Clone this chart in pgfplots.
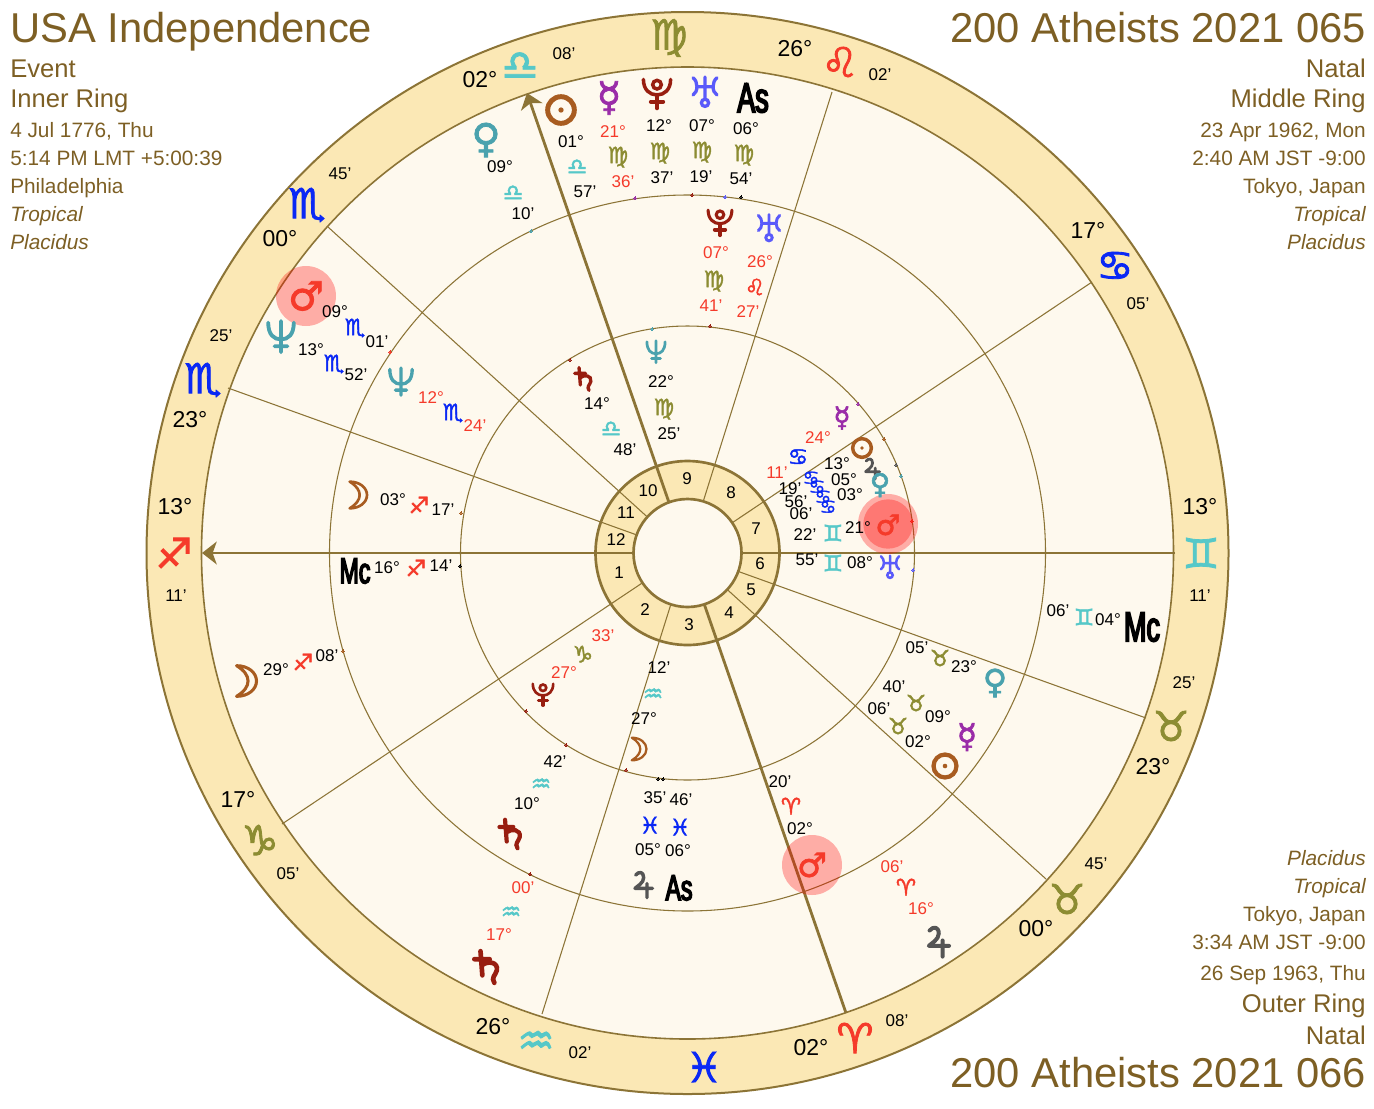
\documentclass[border=0pt]{standalone}
\usepackage{pgfplots}
\pgfplotsset{compat=1.18}
\usetikzlibrary{arrows.meta}
\usepackage{fontspec}
\setmainfont{Liberation Sans}
\newfontfamily\sym[FakeBold=2]{DejaVu Sans}
\newfontfamily\asf[FakeStretch=0.64,FakeBold=4]{Liberation Sans}
\definecolor{ttl}{HTML}{7D5F24}
\definecolor{gold}{HTML}{FBE8B5}
\definecolor{cream}{HTML}{FEF9EE}
\definecolor{ln}{HTML}{8C7436}
\definecolor{rd}{HTML}{F53A2A}
\definecolor{olv}{HTML}{8C8C32}
\definecolor{tea}{HTML}{56C8C8}
\definecolor{blu}{HTML}{0A28F5}
\definecolor{brn}{HTML}{A85C20}
\definecolor{pur}{HTML}{9A2CA8}
\definecolor{ven}{HTML}{4AA2AE}
\definecolor{jup}{HTML}{555555}
\definecolor{sat}{HTML}{981E10}
\definecolor{ura}{HTML}{5A5AFA}
\newcommand\fs[1]{\fontsize{#1}{#1}\selectfont}
\newcommand\sg[1]{\fs{#1}\sym}
% custom marks, scaled by the mark size
\newcommand\mpt[2]{\pgfqpoint{#1\pgfplotmarksize}{#2\pgfplotmarksize}}
\pgfdeclareplotmark{sunm}{%
  \pgfsetlinewidth{0.37\pgfplotmarksize}%
  \pgfpathcircle{\pgfpointorigin}{\pgfplotmarksize}\pgfusepathqstroke
  \pgfpathcircle{\pgfpointorigin}{0.2\pgfplotmarksize}\pgfusepathqfill}
\pgfdeclareplotmark{moonm}{%
  \pgfsetlinewidth{0.2\pgfplotmarksize}\pgfsetroundjoin
  \pgfpathmoveto{\mpt{-0.55}{1}}%
  \pgfpathcurveto{\mpt{0.2}{1.0}}{\mpt{0.75}{0.55}}{\mpt{0.75}{0}}%
  \pgfpathcurveto{\mpt{0.75}{-0.55}}{\mpt{0.2}{-1.0}}{\mpt{-0.55}{-1}}%
  \pgfpathcurveto{\mpt{-0.05}{-0.7}}{\mpt{0.2}{-0.35}}{\mpt{0.2}{0}}%
  \pgfpathcurveto{\mpt{0.2}{0.35}}{\mpt{-0.05}{0.7}}{\mpt{-0.55}{1}}%
  \pgfpathclose\pgfusepathqstroke}
\pgfdeclareplotmark{plutom}{%
  \pgfsetlinewidth{0.22\pgfplotmarksize}\pgfsetroundcap
  \pgfpathcircle{\mpt{0}{0.52}}{0.27\pgfplotmarksize}\pgfusepathqstroke
  \pgfpathmoveto{\mpt{-0.85}{0.85}}%
  \pgfpathcurveto{\mpt{-0.85}{0.2}}{\mpt{-0.45}{-0.12}}{\mpt{0}{-0.12}}%
  \pgfpathcurveto{\mpt{0.45}{-0.12}}{\mpt{0.85}{0.2}}{\mpt{0.85}{0.85}}%
  \pgfusepathqstroke
  \pgfsetlinewidth{0.26\pgfplotmarksize}%
  \pgfpathmoveto{\mpt{0}{-0.12}}\pgfpathlineto{\mpt{0}{-0.95}}%
  \pgfpathmoveto{\mpt{-0.38}{-0.55}}\pgfpathlineto{\mpt{0.38}{-0.55}}%
  \pgfusepathqstroke}
\pgfdeclareplotmark{neptm}{%
  \pgfsetlinewidth{0.24\pgfplotmarksize}\pgfsetroundcap
  \pgfpathmoveto{\mpt{-0.8}{0.9}}%
  \pgfpathcurveto{\mpt{-0.8}{0.15}}{\mpt{-0.45}{-0.15}}{\mpt{0}{-0.15}}%
  \pgfpathcurveto{\mpt{0.45}{-0.15}}{\mpt{0.8}{0.15}}{\mpt{0.8}{0.9}}%
  \pgfpathmoveto{\mpt{0}{1}}\pgfpathlineto{\mpt{0}{-0.95}}%
  \pgfpathmoveto{\mpt{-0.4}{-0.58}}\pgfpathlineto{\mpt{0.4}{-0.58}}%
  \pgfusepathqstroke}
\pgfdeclareplotmark{uram}{%
  \pgfsetlinewidth{0.22\pgfplotmarksize}\pgfsetroundcap
  \pgfpathmoveto{\mpt{-0.8}{0.95}}%
  \pgfpathcurveto{\mpt{-0.45}{0.7}}{\mpt{-0.45}{0}}{\mpt{-0.8}{-0.2}}%
  \pgfpathmoveto{\mpt{0.8}{0.95}}%
  \pgfpathcurveto{\mpt{0.45}{0.7}}{\mpt{0.45}{0}}{\mpt{0.8}{-0.2}}%
  \pgfpathmoveto{\mpt{-0.5}{0.35}}\pgfpathlineto{\mpt{0.5}{0.35}}%
  \pgfpathmoveto{\mpt{0}{1}}\pgfpathlineto{\mpt{0}{-0.45}}%
  \pgfpathcircle{\mpt{0}{-0.72}}{0.24\pgfplotmarksize}%
  \pgfusepathqstroke}
\pgfdeclareplotmark{jupm}{%
  \pgfsetlinewidth{0.26\pgfplotmarksize}\pgfsetroundcap\pgfsetroundjoin
  \pgfpathmoveto{\mpt{-0.55}{0.75}}%
  \pgfpathcurveto{\mpt{-0.3}{1.05}}{\mpt{0.05}{1.0}}{\mpt{0.05}{0.55}}%
  \pgfpathcurveto{\mpt{0.05}{0.15}}{\mpt{-0.45}{-0.1}}{\mpt{-0.6}{-0.25}}%
  \pgfpathlineto{\mpt{0.72}{-0.25}}%
  \pgfpathmoveto{\mpt{0.3}{0.1}}\pgfpathlineto{\mpt{0.3}{-0.95}}%
  \pgfusepathqstroke}
\pgfdeclareplotmark{satm}{%
  \pgfsetlinewidth{0.28\pgfplotmarksize}\pgfsetroundcap
  \pgfpathmoveto{\mpt{-0.33}{0.95}}\pgfpathlineto{\mpt{-0.22}{-0.5}}%
  \pgfpathmoveto{\mpt{-0.7}{0.47}}\pgfpathlineto{\mpt{0.22}{0.47}}%
  \pgfpathmoveto{\mpt{-0.25}{0.1}}%
  \pgfpathcurveto{\mpt{0.1}{0.4}}{\mpt{0.75}{0.3}}{\mpt{0.65}{-0.2}}%
  \pgfpathcurveto{\mpt{0.55}{-0.55}}{\mpt{0.3}{-0.6}}{\mpt{0.5}{-0.95}}%
  \pgfusepathqstroke}
\pgfplotsset{
 lab/.style 2 args={only marks, mark=*, mark size=0pt, mark options={draw opacity=0,fill opacity=0},
  point meta=explicit symbolic, nodes near coords={\pgfplotspointmeta},
  every node near coord/.style={anchor=center, inner sep=0pt, outer sep=0pt, text=#1, font=#2, opacity=1, text opacity=1}},
 ring/.style n args={4}{only marks, mark=*, mark size=#1pt, mark options={draw=#2, line width=#3pt, fill=#4}},
 oring/.style 2 args={only marks, mark=o, mark size=#1pt, mark options={draw=ln, line width=#2pt}},
 dots/.style={only marks, mark=*, mark size=0.8pt, mark options={draw=#1, line width=0pt, fill=#1}},
 gl/.style n args={3}{only marks, mark=#1, mark size=#2pt, mark options={draw=#3, fill=#3}},
 spoke/.style={ln, line width=0.8pt, no markers},
 axisline/.style={ln, line width=2.1pt, no markers}
}
\newcommand\lab[3]{\addplot[lab={#1}{#2}] table[row sep=\\, meta=t]{x y t\\ #3};}
\newcommand\tl[3]{\node[anchor=base west,inner sep=0pt,font=\fs{#1},text=ttl] at (axis cs:10,#2) {#3};}
\newcommand\tr[3]{\node[anchor=base east,inner sep=0pt,font=\fs{#1},text=ttl] at (axis cs:1366,#2) {#3};}
\begin{document}
\begin{tikzpicture}
\begin{axis}[scale only axis, width=1030.5pt, height=831pt, xmin=0, xmax=1374, ymin=0, ymax=1108,
  y dir=reverse, hide axis, clip=false, clip mode=individual]
\path (axis cs:0,0) (axis cs:1374,1108);
% rings
\addplot[ring={405.75}{ln}{1.5}{gold}] coordinates {(687.5,553)};
\addplot[ring={364.5}{ln}{1.2}{cream}] coordinates {(687.5,553)};
\addplot[oring={268.5}{0.8}] coordinates {(687.5,553)};
\addplot[oring={170.25}{0.8}] coordinates {(687.5,553)};
\addplot[ring={69}{ln}{2}{gold}] coordinates {(687.5,553)};
% house cusps
\addplot[spoke] coordinates {(228,388) (1146,718)};
\addplot[spoke] coordinates {(328,227) (1046,879)};
\addplot[spoke] coordinates {(832,92) (542,1014)};
\addplot[spoke] coordinates {(1092,282) (282,824)};
\addplot[axisline, -{Stealth[length=11pt,width=17pt,inset=3pt]}] coordinates {(1175,553) (202,553)};
\addplot[axisline, -{Stealth[length=11pt,width=17pt,inset=3pt]}] coordinates {(846,1013) (527,93)};
\addplot[ring={40.5}{ln}{2}{cream}] coordinates {(687.5,553)};
% tiny position dots
\addplot[dots=pur] coordinates {(635,198) (858,404)};
\addplot[dots=sat] coordinates {(692,195) (710,326) (526,711) (566,745) (626,770) (530,874) (570,360)};
\addplot[dots=ura] coordinates {(725,197) (913,570)};
\addplot[dots=black] coordinates {(741,197) (460,566) (658,779) (663,779)};
\addplot[dots=ven] coordinates {(531,231) (652,329) (901,476)};
\addplot[dots=brn] coordinates {(884,439) (343,651) (461,513)};
\addplot[dots=jup] coordinates {(896,465)};
\addplot[dots=rd] coordinates {(912,521) (390,352)};
% halos
\addplot[only marks, mark=*, mark size=22.5pt, mark options={draw opacity=0, fill=red, fill opacity=0.3}] coordinates {(306,296) (812,865) (888,524)};
\addplot[only marks, mark=*, mark size=18.5pt, mark options={draw opacity=0, fill=red, fill opacity=0.3}] coordinates {(888,524)};
% zodiac ring signs
\lab{olv}{\sg{31}}{669 38 ♍\\ 1171 726 ♉\\ 1067 899 ♉\\ 260 840 ♑\\}
\lab{tea}{\sg{31}}{520 66 ♎\\ 1201 553 ♊\\ 536 1043 ♒\\}
\lab{rd}{\sg{31}}{840 62 ♌\\ 855 1038 ♈\\ 174 553 ♐\\}
\lab{blu}{\sg{31}}{1115 266 ♋\\ 704 1067 ♓\\ 203 380 ♏\\ 307 205 ♏\\}
\lab{black}{\fs{17.25}}{480 80 02°\\ 795 49 26°\\ 1088 230 17°\\ 1200 507 13°\\ 1153 767 23°\\ 1036 929 00°\\ 811 1048 02°\\ 493 1027 26°\\ 238 799 17°\\ 175 507 13°\\ 190 420 23°\\ 280 239 00°\\}
\lab{black}{\fs{12.75}}{564 54 08'\\ 880 75 02'\\ 1138 304 05'\\ 1200 596 11'\\ 1184 683 25'\\ 1096 864 45'\\ 897 1021 08'\\ 580 1053 02'\\ 288 874 05'\\ 176 596 11'\\ 221 336 25'\\ 340 174 45'\\}
% house numbers
\lab{black}{\fs{12.75}}{687 479 9\\ 731 493 8\\ 756 529 7\\ 760 564 6\\ 751 590 5\\ 729 613 4\\ 689 625 3\\ 645 610 2\\ 619 573 1\\ 616 540 12\\ 626 513 11\\ 648 491 10\\}
% planets drawn as marks: outer, middle, inner ring
\addplot[gl={sunm}{10}{brn}] coordinates {(561,110)};
\addplot[gl={sunm}{8.6}{brn}] coordinates {(945,766)};
\addplot[gl={sunm}{7}{brn}] coordinates {(862,448)};
\addplot[gl={moonm}{11.5}{brn}] coordinates {(245,681)};
\addplot[gl={moonm}{10}{brn}] coordinates {(357,495)};
\addplot[gl={moonm}{8.5}{brn}] coordinates {(638,749)};
\addplot[gl={plutom}{12}{sat}] coordinates {(657,93)};
\addplot[gl={plutom}{10.5}{sat}] coordinates {(720,222)};
\addplot[gl={plutom}{9}{sat}] coordinates {(543,694)};
\addplot[gl={neptm}{12}{ven}] coordinates {(281,337)};
\addplot[gl={neptm}{10.5}{ven}] coordinates {(401,382)};
\addplot[gl={neptm}{8.5}{ven}] coordinates {(656,352)};
\addplot[gl={uram}{11.25}{ura}] coordinates {(705,92)};
\addplot[gl={uram}{10}{ura}] coordinates {(769,228)};
\addplot[gl={uram}{8.5}{ura}] coordinates {(890,567)};
\addplot[gl={jupm}{11.5}{jup}] coordinates {(938,942)};
\addplot[gl={jupm}{10}{jup}] coordinates {(643,885)};
\addplot[gl={jupm}{8}{jup}] coordinates {(872,469)};
\addplot[gl={satm}{12.5}{sat}] coordinates {(486,967)};
\addplot[gl={satm}{11.25}{sat}] coordinates {(510,834)};
\addplot[gl={satm}{9}{sat}] coordinates {(583,379)};
% planets set as glyphs
\lab{ven}{\sg{30}}{486 140 ♀\\}
\lab{pur}{\sg{30}}{609 98 ☿\\}
\lab{rd}{\sg{30}}{306 296 ♂\\}
\lab{ven}{\sg{25}}{995 683 ♀\\}
\lab{pur}{\sg{25}}{967 737 ☿\\}
\lab{rd}{\sg{25}}{812 865 ♂\\}
\lab{ven}{\sg{21}}{880 485 ♀\\}
\lab{pur}{\sg{21}}{842 418 ☿\\}
\lab{rd}{\sg{21}}{888 525 ♂\\}
% angles
\lab{black}{\fs{31.5}\asf}{753 98 As\\ 1142 627 Mc\\}
\lab{black}{\fs{27}\asf}{679 888 As\\ 355 571 Mc\\}
% small signs
\lab{tea}{\sg{17}}{577 167 ♎\\ 513 193 ♎\\ 611 429 ♎\\ 833 533 ♊\\ 833 563 ♊\\ 1084 617 ♊\\ 653 695 ♒\\ 541 785 ♒\\ 511 913 ♒\\}
\lab{olv}{\sg{17}}{618 157 ♍\\ 660 153 ♍\\ 702 152 ♍\\ 744 155 ♍\\ 714 281 ♍\\ 664 409 ♍\\ 583 654 ♑\\ 940 658 ♉\\ 916 703 ♉\\ 898 726 ♉\\}
\lab{blu}{\sg{17}}{798 457 ♋\\ 355 328 ♏\\ 334 364 ♏\\ 453 413 ♏\\ 650 825 ♓\\ 680 827 ♓\\}
\lab{blu}{\sg{14}}{811 478 ♋\\ 817 487 ♋\\ 823 497 ♋\\ 828 507 ♋\\}
\lab{rd}{\sg{17}}{755 287 ♌\\ 419 505 ♐\\ 416 568 ♐\\ 303 662 ♐\\ 791 806 ♈\\ 906 887 ♈\\}
% degree and minute labels, black
\lab{black}{\fs{12.75}}{571 142 01°\\ 585 192 57'\\ 500 167 09°\\ 523 214 10'\\ 659 126 12°\\ 662 178 37'\\ 702 126 07°\\ 701 177 19'\\ 746 129 06°\\ 741 179 54'\\
 837 464 13°\\ 790 489 19'\\ 844 480 05°\\ 796 502 56'\\ 850 495 03°\\ 801 514 06'\\ 858 528 21°\\ 805 535 22'\\ 860 563 08°\\ 807 560 55'\\
 335 312 09°\\ 377 342 01'\\ 311 350 13°\\ 356 375 52'\\ 393 500 03°\\ 443 510 17'\\ 387 568 16°\\ 441 566 14'\\ 276 670 29°\\ 327 656 08'\\
 597 404 14°\\ 625 450 48'\\ 661 382 22°\\ 669 434 25'\\ 659 668 12'\\ 644 719 27°\\ 555 762 42'\\ 527 804 10°\\ 655 798 35'\\ 681 800 46'\\ 648 850 05°\\ 678 851 06°\\
 964 667 23°\\ 917 648 05'\\ 938 717 09°\\ 894 687 40'\\ 918 742 02°\\ 879 709 06'\\ 1108 620 04°\\ 1058 611 06'\\ 800 829 02°\\ 780 782 20'\\}
\lab{rd}{\fs{12.75}}{613 132 21°\\ 623 182 36'\\ 716 253 07°\\ 711 306 41'\\ 760 262 26°\\ 748 312 27'\\ 818 438 24°\\ 777 473 11'\\ 431 398 12°\\ 475 426 24'\\ 603 636 33'\\ 564 673 27°\\ 523 888 00'\\ 499 935 17°\\ 921 909 16°\\ 892 867 06'\\}
% corner text
\tl{31.3}{42}{USA Independence}
\tl{19.2}{77}{Event}
\tl{19.2}{107}{Inner Ring}
\tl{15.6}{137}{4 Jul 1776, Thu}
\tl{15.6}{165}{5:14 PM LMT +5:00:39}
\tl{15.6}{193}{Philadelphia}
\tl{15.6}{221}{\itshape Tropical}
\tl{15.6}{249}{\itshape Placidus}
\tr{31.3}{42}{200 Atheists 2021 065}
\tr{19.2}{77}{Natal}
\tr{19.2}{107}{Middle Ring}
\tr{15.6}{137}{23 Apr 1962, Mon}
\tr{15.6}{165}{2:40 AM JST -9:00}
\tr{15.6}{193}{Tokyo, Japan}
\tr{15.6}{221}{\itshape Tropical}
\tr{15.6}{249}{\itshape Placidus}
\tr{15.6}{865}{\itshape Placidus}
\tr{15.6}{893}{\itshape Tropical}
\tr{15.6}{921}{Tokyo, Japan}
\tr{15.6}{949}{3:34 AM JST -9:00}
\tr{15.6}{980}{26 Sep 1963, Thu}
\tr{19.2}{1012}{Outer Ring}
\tr{19.2}{1044}{Natal}
\tr{31.3}{1087}{200 Atheists 2021 066}
\end{axis}
\end{tikzpicture}
\end{document}
